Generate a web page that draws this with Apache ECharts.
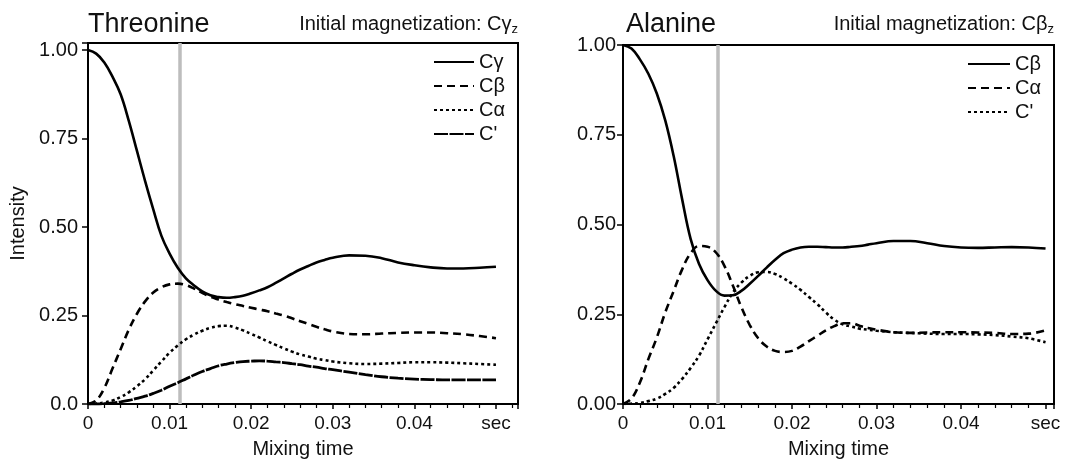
<!DOCTYPE html>
<html><head><meta charset="utf-8">
<script src="https://cdn.jsdelivr.net/npm/echarts@6/dist/echarts.min.js"></script>
<style>html,body{margin:0;padding:0;background:#fff}#c{width:1088px;height:464px}</style>
</head><body><div id="c"></div>
<script>
// Mixing time (sec)
const time = [0,0.001,0.002,0.003,0.004,0.005,0.006,0.007,0.008,0.009,0.010,0.011,0.012,0.013,0.014,0.015,0.016,0.017,0.018,0.019,0.020,0.021,0.022,0.023,0.024,0.025,0.026,0.027,0.028,0.029,0.030,0.032,0.034,0.036,0.038,0.040,0.042,0.044,0.046,0.048,0.050];

// Threonine, initial magnetization C-gamma
const thrCgamma = [1.0,0.99,0.965,0.925,0.875,0.80,0.715,0.63,0.55,0.475,0.425,0.385,0.355,0.335,0.318,0.307,0.302,0.300,0.302,0.306,0.313,0.321,0.33,0.342,0.355,0.368,0.38,0.39,0.40,0.407,0.413,0.42,0.419,0.412,0.40,0.392,0.386,0.383,0.383,0.385,0.388];
const thrCbeta = [0,0.01,0.045,0.10,0.155,0.21,0.255,0.29,0.315,0.33,0.338,0.34,0.336,0.326,0.314,0.303,0.295,0.288,0.282,0.277,0.272,0.267,0.262,0.256,0.25,0.242,0.234,0.226,0.218,0.211,0.205,0.198,0.197,0.199,0.201,0.202,0.202,0.2,0.197,0.192,0.186];
const thrCalpha = [0,0.001,0.004,0.01,0.02,0.033,0.05,0.07,0.095,0.12,0.145,0.165,0.183,0.196,0.207,0.215,0.22,0.221,0.216,0.208,0.198,0.188,0.177,0.167,0.157,0.148,0.14,0.134,0.128,0.124,0.12,0.115,0.113,0.114,0.116,0.118,0.118,0.117,0.115,0.113,0.111];
const thrCprime = [0,0,0.001,0.003,0.006,0.01,0.016,0.022,0.03,0.039,0.05,0.06,0.071,0.082,0.092,0.1,0.108,0.113,0.117,0.12,0.121,0.122,0.121,0.119,0.117,0.114,0.111,0.107,0.104,0.1,0.097,0.09,0.083,0.077,0.073,0.07,0.069,0.068,0.068,0.068,0.068];

// Alanine, initial magnetization C-beta
const alaCbeta = [1.0,0.99,0.96,0.92,0.865,0.79,0.69,0.57,0.46,0.39,0.345,0.315,0.302,0.303,0.315,0.335,0.357,0.38,0.402,0.42,0.43,0.436,0.438,0.438,0.437,0.436,0.436,0.438,0.44,0.444,0.448,0.454,0.454,0.448,0.44,0.436,0.435,0.436,0.437,0.436,0.433];
const alaCalpha = [0,0.015,0.06,0.125,0.185,0.255,0.315,0.375,0.42,0.44,0.438,0.422,0.385,0.33,0.27,0.22,0.183,0.16,0.148,0.145,0.148,0.16,0.175,0.19,0.205,0.217,0.225,0.225,0.218,0.212,0.207,0.2,0.198,0.199,0.2,0.2,0.199,0.198,0.195,0.196,0.205];
const alaCprime = [0,0.001,0.003,0.008,0.015,0.028,0.045,0.07,0.1,0.135,0.18,0.225,0.27,0.31,0.338,0.357,0.367,0.368,0.362,0.35,0.335,0.318,0.298,0.278,0.255,0.235,0.222,0.216,0.21,0.207,0.204,0.2,0.198,0.196,0.195,0.195,0.194,0.192,0.188,0.183,0.172];

const xTickValues = [0,0.01,0.02,0.03,0.04,0.05];
const xTickLabels = ['0','0.01','0.02','0.03','0.04','sec'];
const yTickValues = [0,0.25,0.5,0.75,1.0];
const yLabelsThr = ['0.0','0.25','0.50','0.75','1.00'];
const yLabelsAla = ['0.00','0.25','0.50','0.75','1.00'];
const markTime = 0.0112;

const FONT = 'Liberation Sans, Arial, Helvetica, sans-serif';
const pairs = v => time.map((t,i)=>[t, v[i]]);
function lookup(vals, labels, v){
  for (let i=0;i<vals.length;i++) if (Math.abs(vals[i]-v)<1e-9) return labels[i];
  return '';
}

function xAxis(gi, max){
  return {
    type:'value', gridIndex:gi, min:0, max:max, interval:0.01,
    name:'Mixing time', nameLocation:'middle', nameGap:35,
    nameTextStyle:{color:'#111', fontSize:20, fontFamily:FONT},
    axisLine:{show:true, lineStyle:{color:'#000', width:2}},
    axisTick:{show:true, length:5, lineStyle:{color:'#000', width:1.5}},
    minorTick:{show:true, splitNumber:5, length:4, lineStyle:{color:'#000', width:1.2}},
    splitLine:{show:false},
    axisLabel:{color:'#111', fontSize:19, fontFamily:FONT, margin:10,
      formatter:v=>lookup(xTickValues, xTickLabels, v)}
  };
}
function yAxis(gi, max, labels, name, margin){
  return {
    type:'value', gridIndex:gi, min:0, max:max, interval:0.25,
    name:name, nameLocation:'middle', nameGap:60,
    nameTextStyle:{color:'#111', fontSize:20, fontFamily:FONT},
    axisLine:{show:true, lineStyle:{color:'#000', width:2}},
    axisTick:{show:true, length:6, lineStyle:{color:'#000', width:1.5}},
    splitLine:{show:false},
    axisLabel:{color:'#111', fontSize:20, fontFamily:FONT, margin:margin,
      formatter:v=>lookup(yTickValues, labels, v)}
  };
}
function line(name, data, gi, dash, width){
  return {
    type:'line', name:name, xAxisIndex:gi, yAxisIndex:gi, data:pairs(data),
    showSymbol:false, symbol:'none', smooth:0.4, silent:true, z:3,
    itemStyle:{color:'#000'},
    lineStyle:{color:'#000', width:width||2.6, type:dash}
  };
}
function marker(gi){
  return {
    type:'line', name:'marker'+gi, xAxisIndex:gi, yAxisIndex:gi, data:[], silent:true, z:1,
    markLine:{silent:true, symbol:'none', precision:6, label:{show:false}, z:1,
      lineStyle:{color:'#bdbdbd', width:3.5, type:'solid'},
      data:[{xAxis:markTime}]}
  };
}
const legendBase = {
  orient:'vertical', itemHeight:14, itemGap:4, padding:0, selectedMode:false,
  itemStyle:{opacity:0},
  textStyle:{color:'#111', fontSize:20, fontFamily:FONT},
  formatter:n=>n.split('|')[1]
};
const titleStyle = {fontSize:27, fontWeight:'normal', color:'#111', fontFamily:FONT};
const subStyle = {fontSize:20, fontWeight:'normal', color:'#111', fontFamily:FONT,
  rich:{sub:{fontSize:13, color:'#111', fontFamily:FONT, verticalAlign:'bottom', padding:[10,0,0,0]}}};

const chart = echarts.init(document.getElementById('c'), null, {renderer:'canvas'});
chart.setOption({
  backgroundColor:'#fff',
  animation:false,
  title:[
    {text:'Threonine', left:88, top:11, padding:0, textStyle:titleStyle},
    {text:'Initial magnetization: Cγ{sub|z}', right:570, top:13, padding:0, textStyle:subStyle},
    {text:'Alanine', left:626, top:11, padding:0, textStyle:titleStyle},
    {text:'Initial magnetization: Cβ{sub|z}', right:34, top:13, padding:0, textStyle:subStyle}
  ],
  legend:[
    Object.assign({}, legendBase, {left:433, top:52, itemWidth:40, itemTextGap:6,
      data:['Thr|Cγ','Thr|Cβ','Thr|Cα',"Thr|C'"]}),
    Object.assign({}, legendBase, {left:967, top:54, itemWidth:42, itemTextGap:7,
      data:['Ala|Cβ','Ala|Cα',"Ala|C'"]})
  ],
  grid:[
    {left:88, right:570, top:43, bottom:57, show:true, borderColor:'#000', borderWidth:2, backgroundColor:'transparent'},
    {left:623, right:34, top:45, bottom:59, show:true, borderColor:'#000', borderWidth:2, backgroundColor:'transparent'}
  ],
  xAxis:[xAxis(0, 0.0527), xAxis(1, 0.051)],
  yAxis:[yAxis(0, 1.02, yLabelsThr, 'Intensity', 10), yAxis(1, 1.0, yLabelsAla, '', 7)],
  series:[
    marker(0), marker(1),
    line('Thr|Cγ', thrCgamma, 0, 'solid', 2.6),
    line('Thr|Cβ', thrCbeta, 0, [8,5], 2.6),
    line('Thr|Cα', thrCalpha, 0, [3,3], 2.6),
    line("Thr|C'", thrCprime, 0, [14,1.5], 2.8),
    line('Ala|Cβ', alaCbeta, 1, 'solid', 2.6),
    line('Ala|Cα', alaCalpha, 1, [8,5], 2.6),
    line("Ala|C'", alaCprime, 1, [3,3], 2.6)
  ]
});
</script></body></html>
